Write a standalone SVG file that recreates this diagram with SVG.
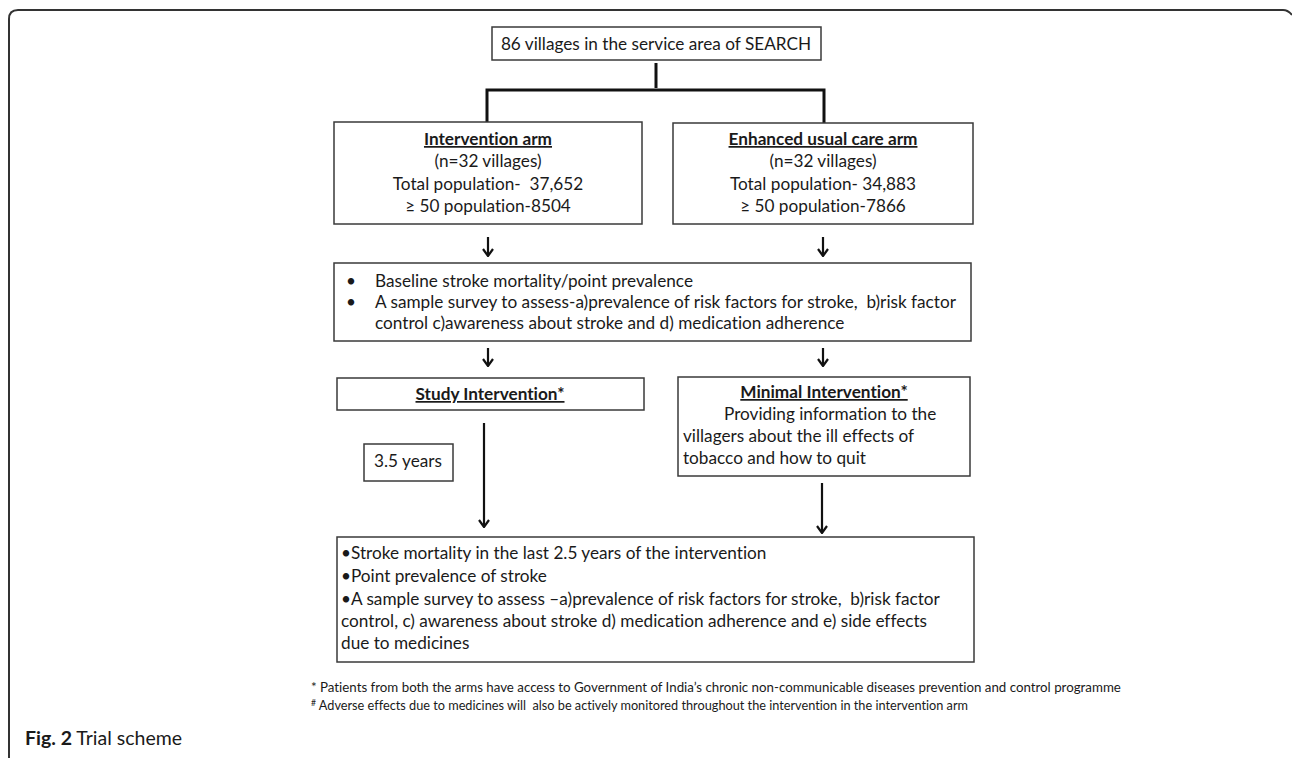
<svg xmlns="http://www.w3.org/2000/svg" width="1292" height="758" viewBox="0 0 1292 758">
<defs>
<style>
.box{fill:#fff;stroke:#3a3a3a;stroke-width:1.5}
.t{font-family:Lato,"Liberation Sans",sans-serif;font-size:17.2px;fill:#1a1a1a;font-variant-ligatures:none}
.c{text-anchor:middle}
.h{font-weight:bold;text-decoration:underline}
.fn{font-family:Lato,"Liberation Sans",sans-serif;font-size:13.3px;fill:#1a1a1a;font-variant-ligatures:none}
.bar{fill:none;stroke:#111;stroke-width:3}
.arr{fill:none;stroke:#111;stroke-width:2.2;marker-end:url(#ah)}
</style>
<marker id="ah" viewBox="0 0 10 12" refX="9" refY="6" markerWidth="10" markerHeight="12" markerUnits="userSpaceOnUse" orient="auto">
<path d="M2 1 L9 6 L2 11" fill="none" stroke="#111" stroke-width="2.2"/>
</marker>
</defs>
<rect width="1292" height="758" fill="#fff"/>
<path d="M9 758 L9 19 Q9 10 18 10 L1283 10 Q1288 10 1292 15" fill="none" stroke="#333" stroke-width="2"/>

<g id="connectors">
<line class="bar" x1="656" y1="63" x2="656" y2="88"/>
<polyline class="bar" points="487,122 487,90 824,90 824,123"/>
<line class="arr" x1="488" y1="237" x2="488" y2="256"/>
<line class="arr" x1="823" y1="237" x2="823" y2="256"/>
<line class="arr" x1="488" y1="348" x2="488" y2="366"/>
<line class="arr" x1="823" y1="348" x2="823" y2="366"/>
<line class="arr" x1="484" y1="423" x2="484" y2="527"/>
<line class="arr" x1="822" y1="483" x2="822" y2="533"/>
</g>

<g id="top">
<rect class="box" x="492" y="27" width="329" height="33"/>
<text class="t c" x="656" y="50">86 villages in the service area of SEARCH</text>
</g>

<g id="intervention-arm">
<rect class="box" x="334" y="122" width="308" height="102"/>
<text class="t c h" x="488" y="145">Intervention arm</text>
<text class="t c" x="488" y="167">(n=32 villages)</text>
<text class="t c" x="488" y="190" xml:space="preserve">Total population-  37,652</text>
<text class="t c" x="488" y="212">≥ 50 population-8504</text>
</g>

<g id="usual-care-arm">
<rect class="box" x="673" y="123" width="300" height="101"/>
<text class="t c h" x="823" y="145">Enhanced usual care arm</text>
<text class="t c" x="823" y="167">(n=32 villages)</text>
<text class="t c" x="823" y="190">Total population- 34,883</text>
<text class="t c" x="823" y="212">≥ 50 population-7866</text>
</g>

<g id="baseline">
<rect class="box" x="334" y="263" width="637" height="78"/>
<text class="t" x="346" y="287">•</text>
<text class="t" x="375" y="287">Baseline stroke mortality/point prevalence</text>
<text class="t" x="346" y="308">•</text>
<text class="t" x="375" y="308" xml:space="preserve">A sample survey to assess-a)prevalence of risk factors for stroke,  b)risk factor</text>
<text class="t" x="375" y="329">control c)awareness about stroke and d) medication adherence</text>
</g>

<g id="study-intervention">
<rect class="box" x="337" y="378" width="307" height="32"/>
<text class="t c h" x="490" y="400">Study Intervention*</text>
</g>

<g id="minimal-intervention">
<rect class="box" x="678" y="377" width="292" height="99"/>
<text class="t c h" x="824" y="398">Minimal Intervention*</text>
<text class="t" x="724" y="420">Providing information to the</text>
<text class="t" x="683" y="442">villagers about the ill effects of</text>
<text class="t" x="683" y="464">tobacco and how to quit</text>
</g>

<g id="duration">
<rect class="box" x="364" y="444" width="89" height="37"/>
<text class="t c" x="408" y="467">3.5 years</text>
</g>

<g id="outcomes">
<rect class="box" x="337" y="537" width="637" height="125"/>
<text class="t" x="341" y="559">•Stroke mortality in the last 2.5 years of the intervention</text>
<text class="t" x="341" y="582">•Point prevalence of stroke</text>
<text class="t" x="341" y="605" xml:space="preserve">•A sample survey to assess –a)prevalence of risk factors for stroke,  b)risk factor</text>
<text class="t" x="341" y="627">control, c) awareness about stroke d) medication adherence and e) side effects</text>
<text class="t" x="341" y="649">due to medicines</text>
</g>

<g id="footnotes">
<text class="fn" x="311" y="692">* Patients from both the arms have access to Government of India’s chronic non-communicable diseases prevention and control programme</text>
<text class="fn" x="311" y="710" textLength="657" lengthAdjust="spacingAndGlyphs"><tspan font-size="9" dy="-4">#</tspan><tspan dy="4" xml:space="preserve"> Adverse effects due to medicines will  also be actively monitored throughout the intervention in the intervention arm</tspan></text>
<text class="t" x="25" y="745" style="font-size:19.5px"><tspan font-weight="bold">Fig. 2</tspan> Trial scheme</text>
</g>
</svg>
